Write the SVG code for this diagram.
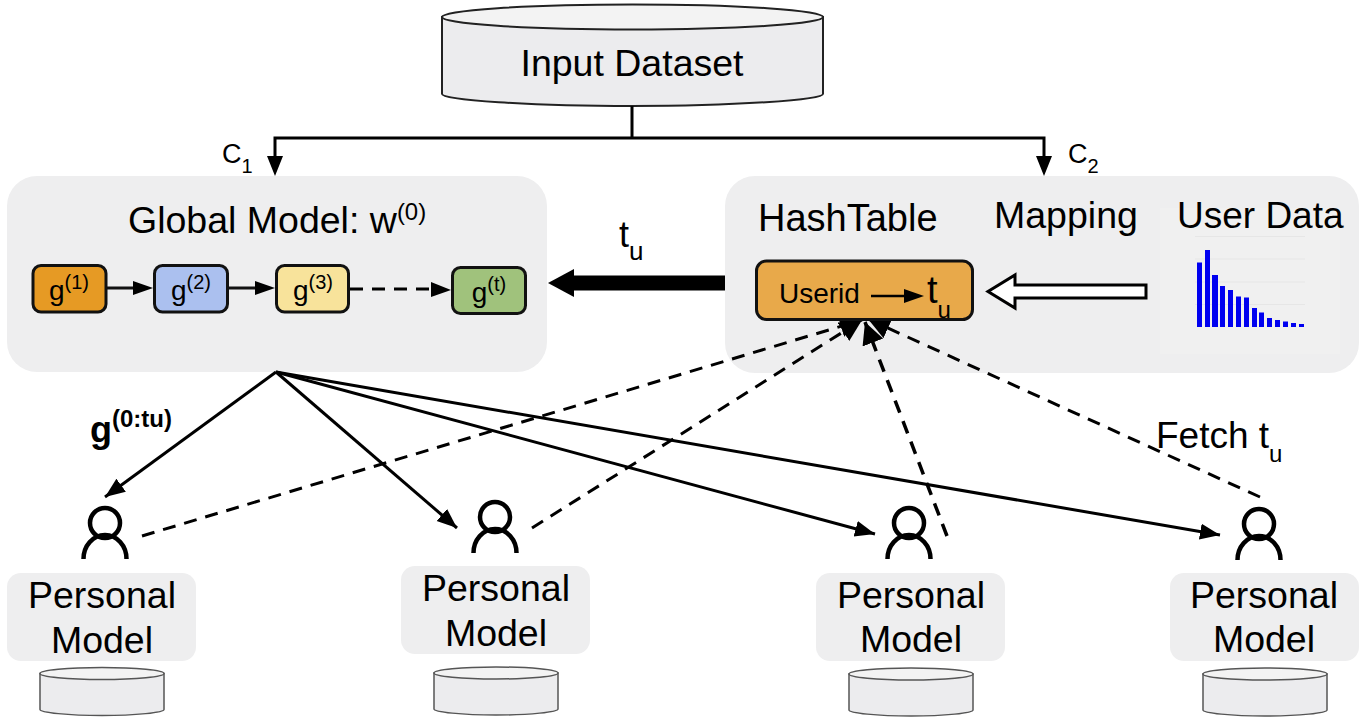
<svg xmlns="http://www.w3.org/2000/svg" width="1364" height="722" viewBox="0 0 1364 722">
<defs>
<marker id="a" markerUnits="userSpaceOnUse" markerWidth="22" markerHeight="18" refX="20" refY="8" orient="auto"><path d="M0 0L20 8L0 16Z" fill="#000"/></marker>
<marker id="h" markerUnits="userSpaceOnUse" markerWidth="24" markerHeight="24" refX="22" refY="11" orient="auto"><path d="M0 0L22 11L0 22Z" fill="#000"/></marker>
<g id="user"><circle cx="0" cy="-18" r="15" fill="none" stroke="#000" stroke-width="4.500"/><path d="M-21.500 18A21.500 24 0 0 1 21.500 18" fill="none" stroke="#000" stroke-width="4.500"/></g>
<g id="db"><path d="M0 12V48C0 51 28 54 62 54S124 51 124 48V12Z" fill="#ececee" stroke="#555" stroke-width="1.500"/><ellipse cx="62" cy="12" rx="62" ry="6" fill="#f3f3f3" stroke="#555" stroke-width="1.500"/></g>
</defs>
<style>
text{font-family:"Liberation Sans",Arial,sans-serif;fill:#000}
.p{fill:#eeeeef}
.t{font-size:37.500px;text-anchor:middle}
.b{stroke:#111;stroke-width:3}
.c{fill:none;stroke:#000;stroke-width:3}
.d{fill:none;stroke:#000;stroke-width:3.500;stroke-dasharray:13 9}
.g{font-size:28px;text-anchor:middle}
</style>
<rect width="1364" height="722" fill="#fff"/>
<g id="input-dataset">
<path d="M442 17V94C442 100 530 106 632 106S823 100 823 94V17Z" fill="#ececee" stroke="#222" stroke-width="2"/>
<ellipse cx="632.500" cy="17" rx="190.500" ry="12.500" fill="#f3f3f3" stroke="#222" stroke-width="2"/>
<text class="t" x="632" y="76">Input Dataset</text>
</g>
<g id="global-model">
<rect class="p" x="7" y="176" width="540" height="196" rx="30"/>
<text x="128" y="233" font-size="37.500">Global Model: w<tspan font-size="24" dy="-13">(0)</tspan></text>
</g>
<g id="hash-table">
<rect class="p" x="725" y="176" width="634" height="197" rx="30"/>
<text x="758" y="231" font-size="38">HashTable</text>
<text x="994" y="228" font-size="37.500">Mapping</text>
<rect x="1160" y="208" width="180" height="146" fill="#f0f0f0"/>
<text x="1177" y="228" font-size="37">User Data</text>
<path d="M1195 236.500H1305M1195 259H1305M1195 282H1305M1195 304.500H1305" stroke="#e6e6e6" stroke-width="1" fill="none"/>
<path d="M1197 262.500h5v64.500h-5zM1205 250h5v77h-5zM1212 275h6v52h-6zM1220 286h5v41h-5zM1228 290h5v37h-5zM1236 296.500h5v30.500h-5zM1244 297.500h5v29.500h-5zM1252 308h5v19h-5zM1259 312.500h5v14.500h-5zM1267 318h5v9h-5zM1275 320h5v7h-5zM1283 321.500h5v5.500h-5zM1291 323h5v4h-5zM1299 324h5v3h-5z" fill="#0000f0"/>
</g>
<g id="connectors">
<path class="c" d="M632 106V138H275V160M632 138H1044V160"/>
<path d="M267 156L283 156L275 176Z M1036 156L1052 156L1044 176Z" fill="#000"/>
<path d="M107 288H134" stroke="#111" stroke-width="3"/><path d="M133 281L153 288L133 295Z"/>
<path d="M229 288H256" stroke="#111" stroke-width="3"/><path d="M255 281L275 288L255 295Z"/>
<path class="d" style="stroke-width:3" d="M350 289H432"/><path d="M431 282L451 290L431 297Z"/>
<path d="M725 283H570" stroke="#000" stroke-width="15"/><path d="M574 269L548 283L574 297Z"/>
<path class="c" d="M276 372L105 497" marker-end="url(#a)"/>
<path class="c" d="M276 372L457 528" marker-end="url(#a)"/>
<path class="c" d="M276 372L875 534" marker-end="url(#a)"/>
<path class="c" d="M276 372L1220 535" marker-end="url(#a)"/>
<path class="d" style="stroke-width:3" d="M142 536L862 320" marker-end="url(#h)"/>
<path class="d" style="stroke-width:3" d="M532 528L862 320" marker-end="url(#h)"/>
<path class="d" d="M947 536L865 322" marker-end="url(#h)"/>
<path class="d" style="stroke-width:3" d="M1260 497L868 319" marker-end="url(#h)"/>
</g>
<g id="g1"><rect class="b" x="33" y="265.500" width="73" height="46.500" rx="8" fill="#e69a24"/><text class="g" x="69" y="300">g<tspan font-size="20" dy="-11">(1)</tspan></text></g>
<g id="g2"><rect class="b" x="154.500" y="265.500" width="73" height="46.500" rx="8" fill="#abc0ef"/><text class="g" x="191" y="300">g<tspan font-size="20" dy="-11">(2)</tspan></text></g>
<g id="g3"><rect class="b" x="276.500" y="265.500" width="72" height="46.500" rx="8" fill="#f8e39b"/><text class="g" x="313" y="300">g<tspan font-size="20" dy="-11">(3)</tspan></text></g>
<g id="gt"><rect class="b" x="452.500" y="267.500" width="73" height="46" rx="8" fill="#a0c27c"/><text class="g" x="489" y="302">g<tspan font-size="20" dy="-11">(t)</tspan></text></g>
<g id="userid-box">
<rect x="756.500" y="261" width="216" height="58.500" rx="10" fill="#e8a94a" stroke="#111" stroke-width="3"/>
<text x="779" y="303" font-size="28">Userid</text>
<path d="M871 296H905" stroke="#000" stroke-width="2.500"/><path d="M904 289L924 296L904 303Z" fill="#000"/>
<text x="927" y="303" font-size="38">t<tspan font-size="24" dy="15">u</tspan></text>
</g>
<g id="mapping-arrow"><path d="M1146 285V298H1015V308L988 291.500L1015 275V285Z" fill="#fff" stroke="#000" stroke-width="3"/></g>
<text x="222" y="163" font-size="27">C<tspan font-size="20" dy="10">1</tspan></text>
<text x="1068" y="163" font-size="27">C<tspan font-size="20" dy="10">2</tspan></text>
<text x="619" y="247" font-size="36">t<tspan font-size="26" dy="13">u</tspan></text>
<text x="90" y="442" font-size="36" font-weight="bold">g<tspan font-size="24" dy="-15">(0:tu)</tspan></text>
<text x="1156" y="448" font-size="37">Fetch t<tspan font-size="24" dy="14">u</tspan></text>
<g id="user-1"><use href="#user" x="105" y="541"/></g>
<g id="user-2"><use href="#user" x="495" y="535"/></g>
<g id="user-3"><use href="#user" x="909" y="541"/></g>
<g id="user-4"><use href="#user" x="1259" y="542"/></g>
<g id="personal-1"><rect class="p" x="7" y="573" width="189" height="88" rx="14"/><text class="t" x="102" y="608">Personal</text><text class="t" x="102" y="653">Model</text><use href="#db" x="40" y="661.500"/></g>
<g id="personal-2"><rect class="p" x="401" y="566" width="189" height="88" rx="14"/><text class="t" x="496" y="601">Personal</text><text class="t" x="496" y="646">Model</text><use href="#db" x="434" y="661"/></g>
<g id="personal-3"><rect class="p" x="816" y="573" width="189" height="88" rx="14"/><text class="t" x="911" y="608">Personal</text><text class="t" x="911" y="652">Model</text><use href="#db" x="849" y="662"/></g>
<g id="personal-4"><rect class="p" x="1170" y="573" width="189" height="88" rx="14"/><text class="t" x="1264" y="608">Personal</text><text class="t" x="1264" y="652">Model</text><use href="#db" x="1203" y="662"/></g>
</svg>
